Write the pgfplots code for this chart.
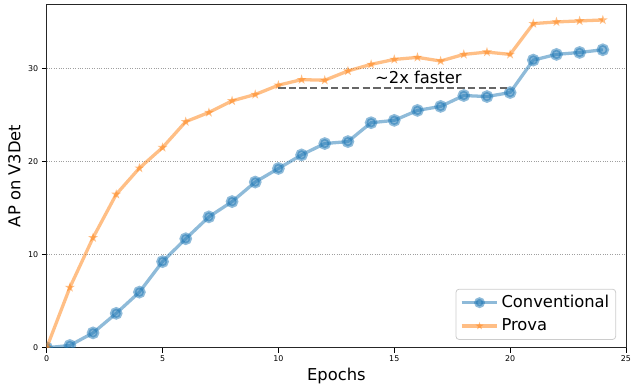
\documentclass[border=0pt]{standalone}
\usepackage{pgfplots}
\pgfplotsset{compat=1.18}
\usepackage{pgfplotstable}
\usepackage{fontspec}
\setmainfont{DejaVu Sans}
\usetikzlibrary{plotmarks}

\definecolor{mplblue}{HTML}{1F77B4}
\definecolor{mplorange}{HTML}{FF7F0E}

\pgfdeclareplotmark{fstar}{%
  \pgfpathmoveto{\pgfpointpolar{90}{\pgfplotmarksize}}%
  \pgfpathlineto{\pgfpointpolar{126}{0.382\pgfplotmarksize}}%
  \pgfpathlineto{\pgfpointpolar{162}{\pgfplotmarksize}}%
  \pgfpathlineto{\pgfpointpolar{198}{0.382\pgfplotmarksize}}%
  \pgfpathlineto{\pgfpointpolar{234}{\pgfplotmarksize}}%
  \pgfpathlineto{\pgfpointpolar{270}{0.382\pgfplotmarksize}}%
  \pgfpathlineto{\pgfpointpolar{306}{\pgfplotmarksize}}%
  \pgfpathlineto{\pgfpointpolar{342}{0.382\pgfplotmarksize}}%
  \pgfpathlineto{\pgfpointpolar{18}{\pgfplotmarksize}}%
  \pgfpathlineto{\pgfpointpolar{54}{0.382\pgfplotmarksize}}%
  \pgfpathclose
  \pgfusepathqfill
}

\pgfplotstableread{
x y
0 0
1 0.25
2 1.60
3 3.70
4 5.98
5 9.26
6 11.72
7 14.07
8 15.71
9 17.81
10 19.27
11 20.73
12 21.95
13 22.16
14 24.19
15 24.44
16 25.51
17 25.94
18 27.11
19 27.00
20 27.43
21 30.92
22 31.53
23 31.74
24 32.03
}\conventional

\pgfplotstableread{
x y
0 0
1 6.48
2 11.83
3 16.49
4 19.31
5 21.52
6 24.30
7 25.29
8 26.54
9 27.22
10 28.22
11 28.82
12 28.75
13 29.75
14 30.46
15 30.99
16 31.21
17 30.82
18 31.53
19 31.78
20 31.53
21 34.84
22 35.02
23 35.13
24 35.23
}\prova

\begin{document}
\begin{tikzpicture}
\begin{axis}[
  name=ax,
  scale only axis,
  width=583bp, height=346bp,
  xmin=0, xmax=25, ymin=0, ymax=36.95,
  xtick={0,5,...,25}, ytick={0,10,20,30},
  tick align=outside, xtick pos=left, ytick pos=left,
  major tick length=4.9bp,
  every tick/.style={black, line width=0.8bp},
  axis line style={black!85, line width=0.8bp},
  ymajorgrids,
  major grid style={gray!75, dotted, line width=0.7bp},
  clip marker paths=true,
  /pgf/number format/assume math mode=true,
  tick label style={font=\fontsize{8}{9.6}\selectfont},
  xticklabel style={inner sep=3bp},
  yticklabel style={inner sep=3.5bp},
  every axis x label/.style={at={(axis description cs:0.5,-0.081)}, anchor=center, font=\fontsize{16.5}{20}\selectfont},
  every axis y label/.style={at={(axis description cs:-0.0558,0.5)}, anchor=center, rotate=90, font=\fontsize{16.5}{20}\selectfont},
  xlabel={Epochs},
  ylabel={AP on V3Det},
  legend image code/.code={\draw[mark repeat=2, mark phase=2, #1, mark options={scale=0.8}] plot coordinates {(0bp,0bp) (18bp,0bp) (36bp,0bp)};},
  legend cell align=left,
  legend style={at={(axis description cs:1,0)}, anchor=south east, xshift=-10bp, yshift=8bp,
    draw=black!20, line width=0.8bp, rounded corners=3bp, fill=white, fill opacity=0.8, text opacity=1,
    font=\fontsize{16.5}{20}\selectfont, inner xsep=4bp, inner ysep=2.5bp,
    row sep=1.5bp,
    nodes={inner sep=2.5bp, text depth=4bp, text height=13bp},
    /tikz/every even column/.append style={column sep=7bp}},
]
\addplot[mplblue, opacity=0.5, line width=3.3bp, mark=*, mark size=4.7bp, mark options={solid, draw=none}] table[x=x,y=y] {\conventional};
\addlegendentry{Conventional}
\addplot[mplorange, opacity=0.5, line width=3.3bp, mark=fstar, mark size=5.2bp, mark options={solid, draw=none}] table[x=x,y=y] {\prova};
\addlegendentry{Prova}
\addplot[black!60, dashed, dash pattern=on 7.4bp off 3.2bp, line width=2bp, forget plot] coordinates {(10,27.9) (20,27.9)};
\node[font=\fontsize{16.5}{20}\selectfont, anchor=center] at (axis cs:16.04,29.04) {\textasciitilde2x faster};
\end{axis}
\path (ax.south west) ++(-47bp,-38bp);
\path (ax.north east) ++(4bp,4bp);
\end{tikzpicture}
\end{document}
